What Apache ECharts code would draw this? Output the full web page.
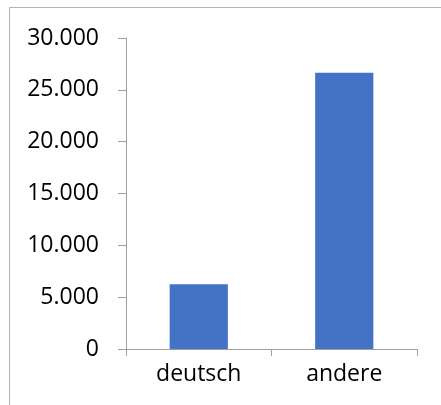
<!DOCTYPE html>
<html>
<head>
<meta charset="utf-8">
<script src="https://cdn.jsdelivr.net/npm/echarts@6/dist/echarts.min.js"></script>
<style>
  html, body { margin: 0; padding: 0; background: #fff; }
  #chart { width: 441px; height: 405px; }
</style>
</head>
<body>
<div id="chart"></div>
<script>
// Kategorien und Werte
const categories = ['deutsch', 'andere']
const values = [6250, 26650]
const yTicks = [0, 5000, 10000, 15000, 20000, 25000, 30000]

// 5000 -> 5.000
const formatNumber = (value) => {
  return String(value).replace(/\B(?=(\d{3})+(?!\d))/g, '.')
}

const chart = echarts.init(document.getElementById('chart'), null, { renderer: 'canvas' })

const labelFont = {
  fontFamily: 'Open Sans',
  fontSize: 23,
  color: '#000',
}

chart.setOption({
  animation: false,
  graphic: [
    {
      type: 'rect',
      shape: { x: 9.5, y: 7.5, width: 600, height: 600 },
      style: { fill: 'none', stroke: '#b4b4b4', lineWidth: 1 },
      silent: true,
    },
  ],
  grid: {
    left: 126,
    right: 24,
    top: 38,
    bottom: 56,
  },
  xAxis: {
    type: 'category',
    data: categories,
    axisLine: { lineStyle: { color: '#a0a0a0', width: 1 } },
    axisTick: { show: true, length: 7, lineStyle: { color: '#a0a0a0' } },
    axisLabel: { ...labelFont, margin: 14 },
  },
  yAxis: {
    type: 'value',
    min: yTicks[0],
    max: yTicks[yTicks.length - 1],
    interval: yTicks[1] - yTicks[0],
    axisLine: { show: true, lineStyle: { color: '#a0a0a0', width: 1 } },
    axisTick: { show: true, length: 8, lineStyle: { color: '#a0a0a0' } },
    splitLine: { show: false },
    axisLabel: {
      ...labelFont,
      margin: 27,
      formatter: (value) => formatNumber(value),
    },
  },
  series: [
    {
      type: 'bar',
      data: values,
      barWidth: '40%',
      itemStyle: { color: '#4472c4' },
    },
  ],
})
</script>
</body>
</html>
